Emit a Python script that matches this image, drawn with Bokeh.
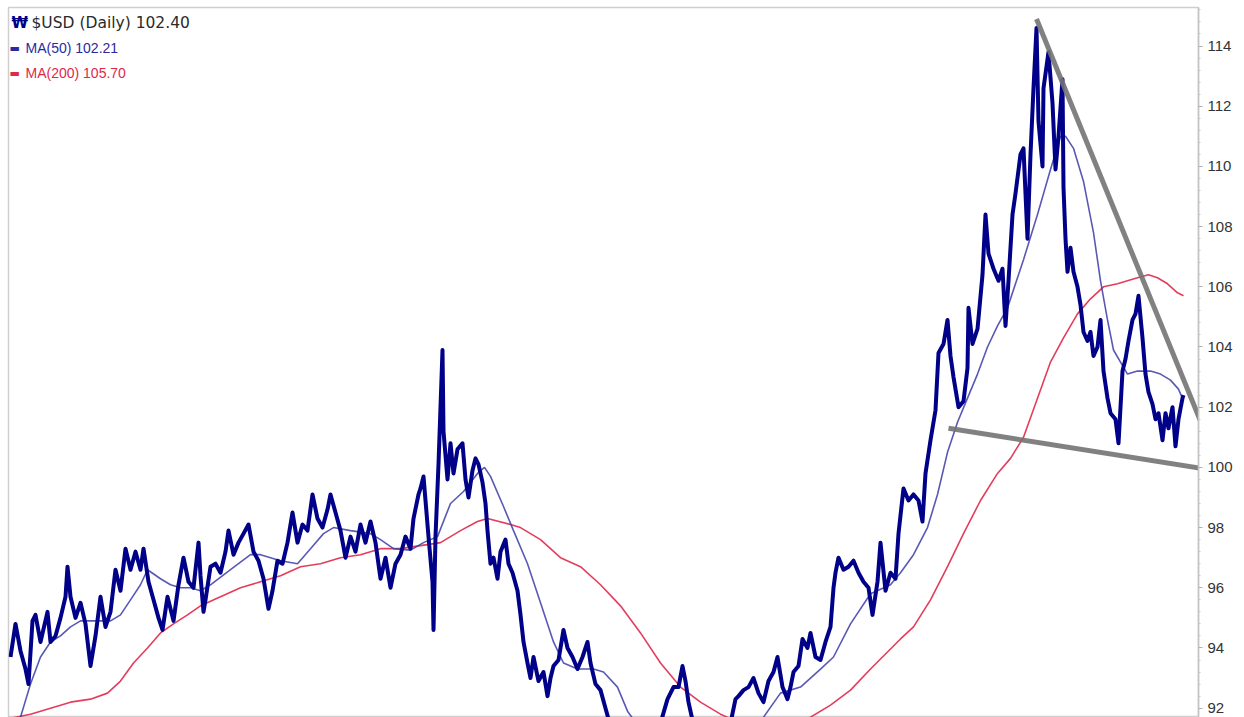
from bokeh.plotting import figure
from bokeh.models import Range1d, Label, FixedTicker
from bokeh.embed import file_html
from bokeh.resources import INLINE

# ---- data (session number, value) ----
usd_session = [10, 15, 20, 25, 28, 32, 35, 40, 47, 50, 55, 60, 65, 67, 70, 75, 80, 85, 90, 95,
               100, 105, 110, 115, 120, 125, 130, 135, 140, 143, 148, 153, 158, 162, 167, 173, 178, 183, 188, 193,
               198, 200, 203, 205, 210, 215, 220, 225, 228, 233, 238, 243, 248, 253, 258, 263, 268, 272, 277, 282,
               287, 292, 297, 302, 307, 312, 317, 322, 327, 330, 335, 340, 345, 350, 355, 360, 365, 370, 375, 380,
               385, 390, 395, 400, 405, 410, 413, 418, 420, 423, 425, 428, 432, 433, 435, 438, 442, 443, 447, 450,
               453, 457, 462, 465, 468, 472, 475, 478, 482, 485, 487, 490, 493, 497, 500, 505, 508, 512, 517, 520,
               523, 527, 530, 533, 538, 543, 547, 550, 553, 558, 563, 567, 572, 577, 582, 587, 590, 595, 600, 605,
               610, 620, 630, 640, 650, 660, 667, 673, 678, 682, 685, 688, 692, 700, 710, 720, 730, 735, 738, 743,
               748, 753, 758, 763, 768, 773, 777, 782, 787, 790, 793, 798, 802, 807, 810, 815, 820, 825, 830, 833,
               835, 838, 843, 848, 853, 858, 863, 868, 872, 877, 880, 885, 890, 895, 898, 903, 908, 913, 918, 922,
               925, 930, 935, 938, 943, 947, 950, 953, 958, 963, 967, 968, 972, 977, 982, 985, 988, 993, 998, 1002,
               1005, 1008, 1012, 1015, 1020, 1023, 1027, 1030, 1033, 1036, 1038, 1042, 1043, 1048, 1052, 1055, 1058, 1062, 1063, 1065,
               1067, 1070, 1073, 1077, 1080, 1083, 1087, 1090, 1093, 1097, 1100, 1103, 1107, 1110, 1115, 1118, 1122, 1125, 1128, 1132,
               1135, 1138, 1142, 1145, 1148, 1152, 1155, 1158, 1162, 1165, 1168, 1172, 1175, 1178, 1182, 1183]
usd_close = [93.7, 94.8, 93.9, 93.3, 92.8, 94.9, 95.1, 94.2, 95.2, 94.2, 94.4, 95.0, 95.7, 96.7, 95.7, 95.0, 95.5, 94.8, 93.4, 94.4,
             95.7, 94.7, 95.2, 96.6, 95.9, 97.3, 96.6, 97.2, 96.6, 97.3, 96.2, 95.6, 95.0, 94.6, 95.7, 94.9, 96.1, 97.0, 96.2, 96.0,
             97.5, 96.4, 95.2, 95.6, 96.7, 96.8, 96.5, 97.2, 97.9, 97.1, 97.5, 97.8, 98.1, 97.2, 96.9, 96.3, 95.3, 95.9, 96.9, 96.8,
             97.5, 98.5, 97.5, 98.1, 97.9, 99.1, 98.3, 98.0, 98.6, 99.1, 98.5, 97.9, 97.0, 97.7, 97.2, 98.1, 97.5, 98.2, 97.5, 96.3,
             97.0, 96.0, 96.8, 97.1, 97.7, 97.3, 98.3, 99.1, 99.3, 99.7, 98.9, 97.7, 96.2, 94.6, 97.7, 100.1, 103.9, 101.2, 99.6, 100.8,
             99.8, 100.6, 100.8, 99.6, 99.0, 99.9, 100.3, 100.1, 99.5, 98.8, 97.9, 96.8, 97.0, 96.3, 97.2, 97.6, 96.8, 96.5, 95.9, 95.1,
             94.2, 93.5, 93.0, 93.7, 92.9, 93.2, 92.4, 93.0, 93.4, 93.6, 94.6, 94.0, 93.7, 93.3, 93.7, 94.2, 93.5, 92.8, 92.6, 92.0,
             91.4, 91.0, 90.8, 91.0, 91.3, 91.5, 92.3, 92.7, 92.7, 93.4, 92.9, 92.2, 91.6, 91.2, 91.0, 91.2, 91.5, 92.3, 92.4, 92.6,
             92.7, 93.0, 92.5, 92.2, 92.9, 93.2, 93.7, 92.7, 92.3, 92.7, 93.2, 93.4, 94.3, 94.0, 94.5, 93.7, 93.6, 94.2, 94.7, 96.0,
             96.5, 97.0, 96.6, 96.7, 96.9, 96.5, 96.2, 96.0, 95.1, 96.2, 97.5, 95.9, 96.5, 96.3, 97.8, 99.3, 98.9, 99.1, 98.9, 98.2,
             99.8, 100.9, 101.9, 103.8, 104.1, 104.9, 103.7, 103.0, 102.0, 102.2, 103.3, 105.3, 104.1, 104.6, 106.4, 108.4, 107.1, 106.6, 106.2, 106.6,
             104.7, 106.2, 108.4, 109.1, 110.4, 110.6, 107.6, 110.4, 112.6, 114.6, 111.5, 110.0, 112.6, 113.8, 112.1, 109.9, 111.0, 112.9, 109.3, 107.6,
             106.5, 107.3, 106.5, 106.0, 105.4, 104.5, 104.2, 104.5, 103.7, 104.0, 104.9, 103.2, 102.3, 101.8, 101.6, 100.8, 103.2, 103.6, 104.2, 104.9,
             105.1, 105.7, 104.3, 103.1, 102.5, 102.1, 101.6, 101.8, 100.9, 101.8, 101.3, 102.0, 100.7, 101.6, 102.3, 102.4]

ma50_session = [15, 20, 30, 40, 50, 60, 70, 80, 90, 100, 110, 120, 130, 140, 147, 160, 170, 180, 190, 200,
                210, 230, 250, 260, 280, 297, 310, 323, 333, 350, 370, 380, 393, 410, 423, 437, 450, 463, 477, 484,
                490, 503, 513, 527, 540, 553, 563, 577, 593, 603, 617, 627, 640, 680, 720, 750, 763, 780, 800, 820,
                833, 850, 870, 890, 900, 913, 927, 937, 947, 957, 967, 977, 987, 997, 1007, 1017, 1023, 1037, 1050, 1060,
                1065, 1073, 1083, 1093, 1100, 1107, 1113, 1120, 1127, 1137, 1150, 1160, 1170, 1178, 1183]
ma50_value = [91.3, 91.7, 92.8, 93.7, 94.2, 94.4, 94.7, 94.9, 94.9, 94.9, 94.9, 95.1, 95.6, 96.1, 96.6, 96.3, 96.1, 96.0, 96.0, 95.9,
              96.1, 96.6, 97.1, 97.1, 96.9, 96.8, 97.3, 97.8, 98.0, 97.9, 97.8, 97.6, 97.3, 97.25, 97.5, 97.7, 98.8, 99.2, 99.8, 100.0,
              99.7, 98.7, 97.9, 96.8, 95.5, 94.2, 93.5, 93.3, 93.3, 93.2, 92.7, 91.9, 91.3, 90.6, 90.6, 91.2, 91.7, 92.5, 92.7, 93.3,
              93.7, 94.8, 95.8, 96.1, 96.5, 97.1, 98.0, 99.1, 100.5, 101.5, 102.3, 103.1, 104.0, 104.7, 105.3, 106.3, 106.9, 108.4, 109.9, 111.0,
              111.0, 110.6, 109.5, 107.8, 106.2, 104.9, 103.9, 103.5, 103.1, 103.2, 103.2, 103.1, 102.9, 102.6, 102.21]

ma200_session = [8, 30, 50, 70, 90, 107, 120, 133, 147, 160, 173, 187, 200, 220, 240, 260, 280, 300, 320, 340,
                 360, 380, 400, 420, 440, 460, 477, 487, 510, 520, 540, 560, 580, 600, 620, 640, 660, 680, 700, 720,
                 740, 770, 800, 810, 830, 850, 870, 900, 913, 930, 947, 963, 980, 997, 1010, 1023, 1037, 1050, 1063, 1077,
                 1090, 1103, 1117, 1137, 1148, 1157, 1167, 1177, 1183]
ma200_value = [91.65, 91.8, 92.0, 92.2, 92.3, 92.5, 92.9, 93.5, 94.0, 94.5, 94.8, 95.1, 95.4, 95.7, 96.0, 96.2, 96.4, 96.7, 96.8, 97.0,
               97.1, 97.3, 97.3, 97.4, 97.5, 97.9, 98.2, 98.3, 98.1, 98.0, 97.6, 97.0, 96.7, 96.1, 95.4, 94.5, 93.5, 92.7, 92.2, 91.8,
               91.5, 91.4, 91.6, 91.7, 92.1, 92.6, 93.3, 94.3, 94.7, 95.6, 96.7, 97.8, 98.9, 99.8, 100.3, 101.0, 102.3, 103.5, 104.3, 105.1,
               105.6, 106.0, 106.1, 106.3, 106.4, 106.3, 106.1, 105.8, 105.7]

upper_trend_session = [1036, 1214]
upper_trend_value = [114.9, 100.4]
lower_trend_session = [948, 1214]
lower_trend_value = [101.3, 99.9]

y_ticks = [92, 94, 96, 98, 100, 102, 104, 106, 108, 110, 112, 114]

legend_title = "$USD (Daily) 102.40"
legend_ma50 = "MA(50) 102.21"
legend_ma200 = "MA(200) 105.70"

NAVY = "#000088"
MA50_C = "#3c3ca8"
MA200_C = "#e0284a"

p = figure(frame_width=1190, frame_height=710,
           x_range=Range1d(8, 1198), y_range=Range1d(91.69, 115.28),
           output_backend="svg", toolbar_location=None,
           x_axis_location=None, y_axis_location="right",
           min_border_left=8, min_border_top=7, min_border_bottom=0, min_border_right=4)
p.grid.visible = False
p.outline_line_color = "#cfcfcf"
p.outline_line_width = 1.5
p.background_fill_color = "white"
p.border_fill_color = "white"

ax = p.yaxis[0]
ax.ticker = FixedTicker(ticks=y_ticks, minor_ticks=[v + d for v in [90] + y_ticks for d in (0.4, 0.8, 1.2, 1.6)])
ax.axis_line_color = "#c4c4c4"
ax.axis_line_width = 1.5
ax.major_tick_line_color = "#b0b0b0"
ax.major_tick_out = 4
ax.major_tick_in = 0
ax.minor_tick_line_color = "#c8c8c8"
ax.minor_tick_out = 2
ax.minor_tick_in = 0
ax.major_label_text_font = "Liberation Sans"
ax.major_label_text_font_size = "15px"
ax.major_label_text_color = "#333333"
ax.major_label_standoff = 5

# moving averages
p.line(ma200_session, ma200_value, line_color=MA200_C, line_width=1.6, line_alpha=0.9)
p.line(ma50_session, ma50_value, line_color=MA50_C, line_width=1.6, line_alpha=0.85)
# price
p.line(usd_session, usd_close, line_color=NAVY, line_width=4, line_join="round")
# trend lines
p.line(upper_trend_session, upper_trend_value, line_color="#737373", line_width=5, line_alpha=0.9)
p.line(lower_trend_session, lower_trend_value, line_color="#737373", line_width=5, line_alpha=0.9)

# legend texts (top-left)
p.add_layout(Label(x=11, y=114.76, text="\u20a9", text_color=NAVY, text_font="DejaVu Sans",
                   text_font_size="15px", text_font_style="bold", text_baseline="middle"))
p.add_layout(Label(x=31, y=114.76, text=legend_title, text_color="#2a2a2a", text_font="DejaVu Sans",
                   text_font_size="15.5px", text_baseline="middle"))
p.add_layout(Label(x=9, y=113.92, text="\u25ac", text_color="#2a2aa0", text_font="DejaVu Sans",
                   text_font_size="11px", text_baseline="middle"))
p.add_layout(Label(x=25, y=113.92, text=legend_ma50, text_color="#2a2aa0", text_font="Liberation Sans",
                   text_font_size="14px", text_baseline="middle"))
p.add_layout(Label(x=9, y=113.09, text="\u25ac", text_color=MA200_C, text_font="DejaVu Sans",
                   text_font_size="11px", text_baseline="middle"))
p.add_layout(Label(x=25, y=113.09, text=legend_ma200, text_color=MA200_C, text_font="Liberation Sans",
                   text_font_size="14px", text_baseline="middle"))

open("out.html", "w").write(file_html(p, INLINE))
